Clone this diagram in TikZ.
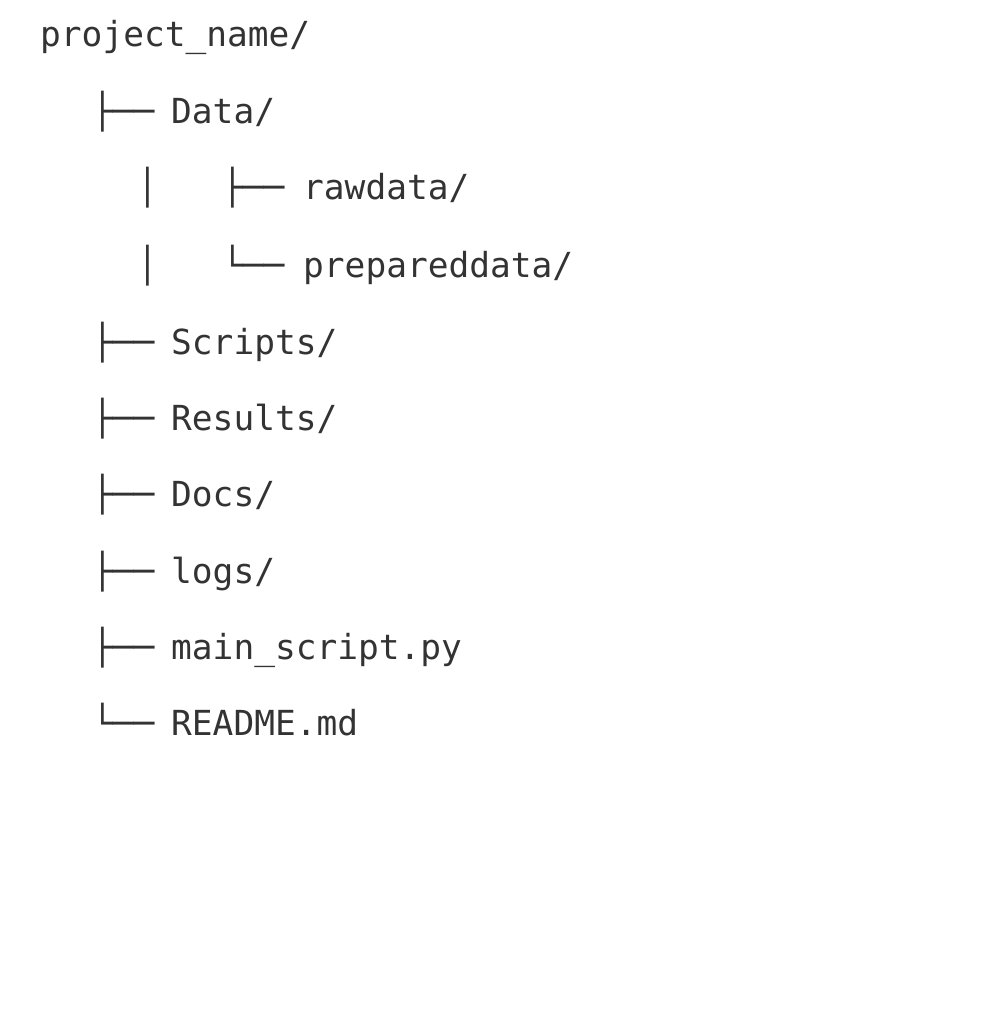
\documentclass[tikz,border=0pt]{standalone}
\usepackage{fontspec}
\setmonofont{DejaVu Sans Mono}
\definecolor{tc}{HTML}{333333}
\begin{document}
\begin{tikzpicture}[x=1pt,y=-1pt,
  t/.style={anchor=base west,inner sep=0pt,text=tc,font=\ttfamily\fontsize{34.5}{34.5}\selectfont}]
\useasboundingbox[fill=white] (0,0) rectangle (1004,1024);
\node[t] (root) at (40,47) {project\_name/};
\node[t] (b1) at (92,124) {├──};  \node[t] (n1) at (171,124) {Data/};
\node[t] (v1) at (137,200) {│};   \node[t] (b2) at (222,200) {├──}; \node[t] (n2) at (303,200) {rawdata/};
\node[t] (v2) at (137,277) {│};   \node[t] (b3) at (222,277) {└──}; \node[t] (n3) at (303,277) {prepareddata/};
\node[t] (b4) at (92,354) {├──};  \node[t] (n4) at (171,354) {Scripts/};
\node[t] (b5) at (92,430) {├──};  \node[t] (n5) at (171,430) {Results/};
\node[t] (b6) at (92,506) {├──};  \node[t] (n6) at (171,506) {Docs/};
\node[t] (b7) at (92,583) {├──};  \node[t] (n7) at (171,583) {logs/};
\node[t] (b8) at (92,659) {├──};  \node[t] (n8) at (171,659) {main\_script.py};
\node[t] (b9) at (92,735) {└──};  \node[t] (n9) at (171,735) {README.md};
\end{tikzpicture}
\end{document}
